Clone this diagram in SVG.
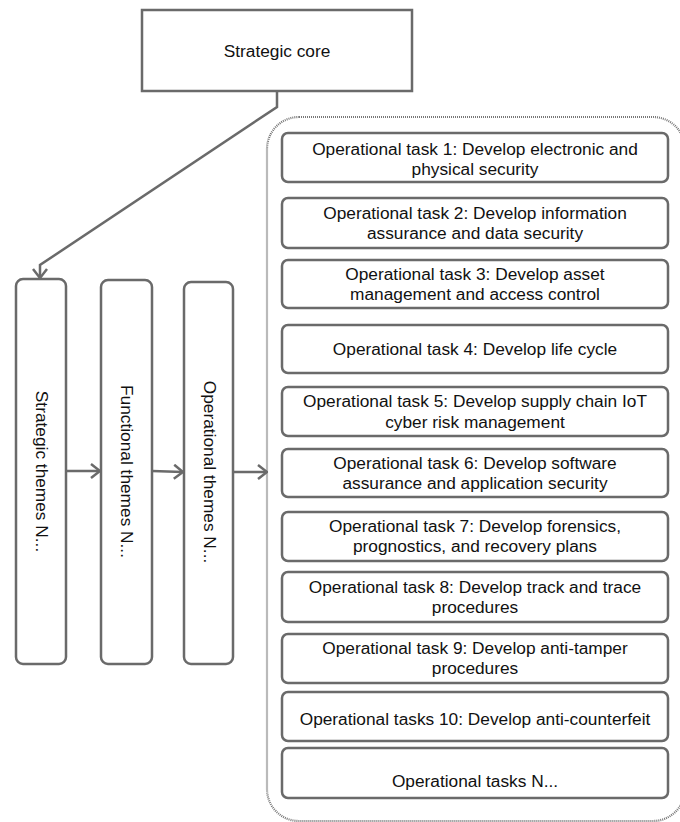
<svg xmlns="http://www.w3.org/2000/svg" width="680" height="822" viewBox="0 0 680 822">
<defs>
<style>
.box{fill:#fff;stroke:#6a6a6a;stroke-width:2.5}
.t{font-family:"Liberation Sans",Arial,sans-serif;font-size:17.3px;fill:#111;text-anchor:middle}
.conn{fill:none;stroke:#6a6a6a;stroke-width:2.5}
.cont{fill:none;stroke:#777;stroke-width:2.2;stroke-dasharray:1 1}
</style>
<marker id="arr" viewBox="0 0 12 16" refX="11" refY="8" markerWidth="12" markerHeight="16" markerUnits="userSpaceOnUse" orient="auto">
<path d="M2,1 L11,8 L2,15" fill="none" stroke="#6a6a6a" stroke-width="2.5"/>
</marker>
</defs>
<rect class="cont" x="267" y="117" width="418" height="704" rx="32"/>
<g id="strategic-core">
<rect class="box" x="142" y="10" width="270" height="81" rx="0"/>
<text class="t" x="277" y="57">Strategic core</text>
</g>
<g id="strategic-themes">
<rect class="box" x="16" y="279" width="50" height="385" rx="7"/>
<text class="t" transform="translate(36,471.5) rotate(90)">Strategic themes N...</text>
</g>
<g id="functional-themes">
<rect class="box" x="101" y="280" width="51" height="384" rx="7"/>
<text class="t" transform="translate(121,471.5) rotate(90)">Functional themes N...</text>
</g>
<g id="operational-themes">
<rect class="box" x="184" y="282" width="49" height="382" rx="7"/>
<text class="t" transform="translate(203.5,472) rotate(90)">Operational themes N...</text>
</g>
<g id="task1"><rect class="box" x="282" y="133" width="386" height="49" rx="6"/>
<text class="t"><tspan x="475" y="155">Operational task 1: Develop electronic and</tspan><tspan x="475" y="175">physical security</tspan></text></g>
<g id="task2"><rect class="box" x="282" y="198" width="386" height="50" rx="6"/>
<text class="t"><tspan x="475" y="218.5">Operational task 2: Develop information</tspan><tspan x="475" y="238.5">assurance and data security</tspan></text></g>
<g id="task3"><rect class="box" x="282" y="260" width="386" height="48" rx="6"/>
<text class="t"><tspan x="475" y="280">Operational task 3: Develop asset</tspan><tspan x="475" y="300">management and access control</tspan></text></g>
<g id="task4"><rect class="box" x="282" y="325" width="386" height="48" rx="6"/>
<text class="t" x="475" y="355">Operational task 4: Develop life cycle</text></g>
<g id="task5"><rect class="box" x="282" y="387" width="386" height="49" rx="6"/>
<text class="t"><tspan x="475" y="407">Operational task 5: Develop supply chain IoT</tspan><tspan x="475" y="427.5">cyber risk management</tspan></text></g>
<g id="task6"><rect class="box" x="282" y="449" width="386" height="48" rx="6"/>
<text class="t"><tspan x="475" y="469">Operational task 6: Develop software</tspan><tspan x="475" y="489">assurance and application security</tspan></text></g>
<g id="task7"><rect class="box" x="282" y="512" width="386" height="49" rx="6"/>
<text class="t"><tspan x="475" y="532">Operational task 7: Develop forensics,</tspan><tspan x="475" y="552">prognostics, and recovery plans</tspan></text></g>
<g id="task8"><rect class="box" x="282" y="572" width="386" height="50" rx="6"/>
<text class="t"><tspan x="475" y="593">Operational task 8: Develop track and trace</tspan><tspan x="475" y="613">procedures</tspan></text></g>
<g id="task9"><rect class="box" x="282" y="634" width="386" height="49" rx="6"/>
<text class="t"><tspan x="475" y="654">Operational task 9: Develop anti-tamper</tspan><tspan x="475" y="674">procedures</tspan></text></g>
<g id="task10"><rect class="box" x="282" y="692" width="386" height="49" rx="6"/>
<text class="t" x="475" y="725">Operational tasks 10: Develop anti-counterfeit</text></g>
<g id="taskN"><rect class="box" x="282" y="748" width="386" height="50" rx="6"/>
<text class="t" x="475" y="787">Operational tasks N...</text></g>
<g id="connectors">
<path class="conn" d="M277,91 L277,107 L40,265 L40,278" marker-end="url(#arr)"/>
<path class="conn" d="M66,471 L100,471" marker-end="url(#arr)"/>
<path class="conn" d="M152,471 L183,472" marker-end="url(#arr)"/>
<path class="conn" d="M233,472 L267,472" marker-end="url(#arr)"/>
</g>
</svg>
